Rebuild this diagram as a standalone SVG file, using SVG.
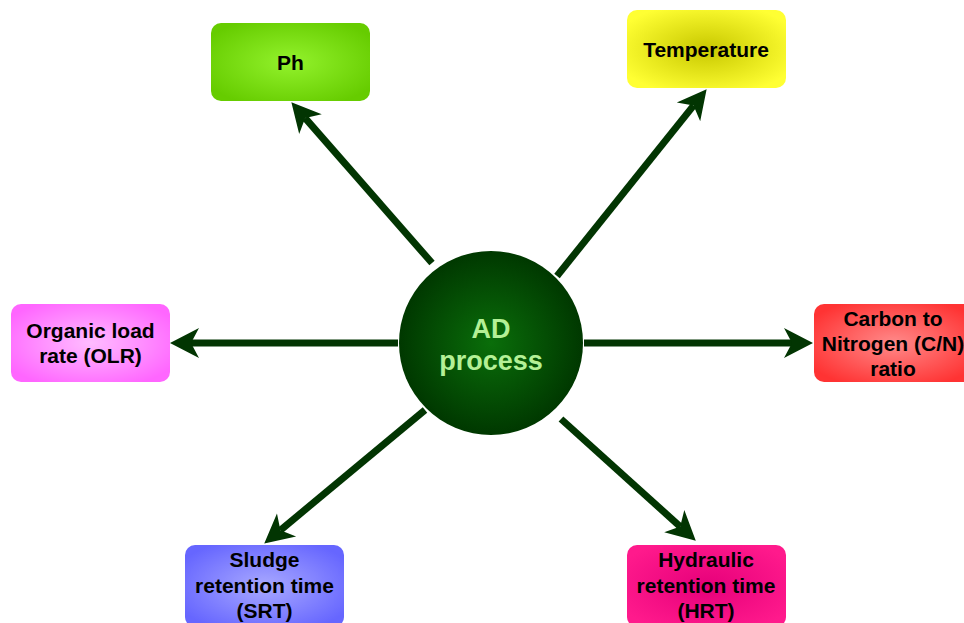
<svg xmlns="http://www.w3.org/2000/svg" width="964" height="623" viewBox="0 0 964 623">
  <defs>
    <marker id="head" markerUnits="userSpaceOnUse" markerWidth="32" markerHeight="32" refX="8" refY="15" orient="auto" overflow="visible">
      <path d="M29,15 L0,0 L8,15 L0,30 Z" fill="#023502"/>
    </marker>
    <radialGradient id="gCore" cx="50%" cy="50%" r="50%">
      <stop offset="0" stop-color="#0a6e0a"/>
      <stop offset="1" stop-color="#003800"/>
    </radialGradient>
    <radialGradient id="gPh" cx="50%" cy="50%" r="60%">
      <stop offset="0" stop-color="#93f22c"/>
      <stop offset="1" stop-color="#66cc00"/>
    </radialGradient>
    <radialGradient id="gTemp" cx="50%" cy="50%" r="60%">
      <stop offset="0" stop-color="#c8c800"/>
      <stop offset="1" stop-color="#ffff33"/>
    </radialGradient>
    <radialGradient id="gCN" cx="50%" cy="50%" r="60%">
      <stop offset="0" stop-color="#ff8a8a"/>
      <stop offset="1" stop-color="#ff3333"/>
    </radialGradient>
    <radialGradient id="gOLR" cx="50%" cy="50%" r="60%">
      <stop offset="0" stop-color="#ffbcff"/>
      <stop offset="1" stop-color="#ff66ff"/>
    </radialGradient>
    <radialGradient id="gSRT" cx="50%" cy="50%" r="60%">
      <stop offset="0" stop-color="#a8a8ff"/>
      <stop offset="1" stop-color="#6666ff"/>
    </radialGradient>
    <radialGradient id="gHRT" cx="50%" cy="50%" r="60%">
      <stop offset="0" stop-color="#e6007a"/>
      <stop offset="1" stop-color="#ff1a8c"/>
    </radialGradient>
  </defs>
  <style>
    .box { stroke: none; }
    .lbl { font-family: "Liberation Sans", Arial, sans-serif; font-weight: bold; font-size: 21px; fill: #000; text-anchor: middle; }
    .core { font-family: "Liberation Sans", Arial, sans-serif; font-weight: bold; font-size: 27px; fill: #b4f096; text-anchor: middle; }
    .link { stroke: #023502; stroke-width: 7; fill: none; marker-end: url(#head); }
  </style>

  <!-- connectors radiating from the central process -->
  <g id="connectors">
    <line class="link" x1="432" y1="263" x2="305.2" y2="118.1"/>
    <line class="link" x1="557" y1="276" x2="693.5" y2="105.6"/>
    <line class="link" x1="398" y1="343" x2="191" y2="343"/>
    <line class="link" x1="584" y1="343" x2="792" y2="343"/>
    <line class="link" x1="425" y1="410" x2="280.4" y2="530.2"/>
    <line class="link" x1="561" y1="419" x2="680.2" y2="526.6"/>
  </g>

  <g id="ad-process">
    <circle cx="491" cy="343" r="92" fill="url(#gCore)"/>
    <text class="core" x="491" y="338">AD</text>
    <text class="core" x="491" y="370">process</text>
  </g>

  <g id="ph">
    <rect class="box" x="211" y="23" width="159" height="78" rx="10" fill="url(#gPh)"/>
    <text class="lbl" x="290.5" y="70">Ph</text>
  </g>

  <g id="temperature">
    <rect class="box" x="627" y="10" width="159" height="78" rx="10" fill="url(#gTemp)"/>
    <text class="lbl" x="706" y="57">Temperature</text>
  </g>

  <g id="cn-ratio">
    <rect class="box" x="814" y="304" width="159" height="78" rx="10" fill="url(#gCN)"/>
    <text class="lbl" x="893" y="326">Carbon to</text>
    <text class="lbl" x="893" y="351">Nitrogen (C/N)</text>
    <text class="lbl" x="893" y="376">ratio</text>
  </g>

  <g id="olr">
    <rect class="box" x="11" y="304" width="159" height="78" rx="10" fill="url(#gOLR)"/>
    <text class="lbl" x="90.5" y="338">Organic load</text>
    <text class="lbl" x="90.5" y="363">rate (OLR)</text>
  </g>

  <g id="srt">
    <rect class="box" x="185" y="545" width="159" height="82" rx="10" fill="url(#gSRT)"/>
    <text class="lbl" x="264.5" y="567">Sludge</text>
    <text class="lbl" x="264.5" y="593">retention time</text>
    <text class="lbl" x="264.5" y="618">(SRT)</text>
  </g>

  <g id="hrt">
    <rect class="box" x="627" y="545" width="159" height="82" rx="10" fill="url(#gHRT)"/>
    <text class="lbl" x="706" y="567">Hydraulic</text>
    <text class="lbl" x="706" y="593">retention time</text>
    <text class="lbl" x="706" y="618">(HRT)</text>
  </g>
</svg>
